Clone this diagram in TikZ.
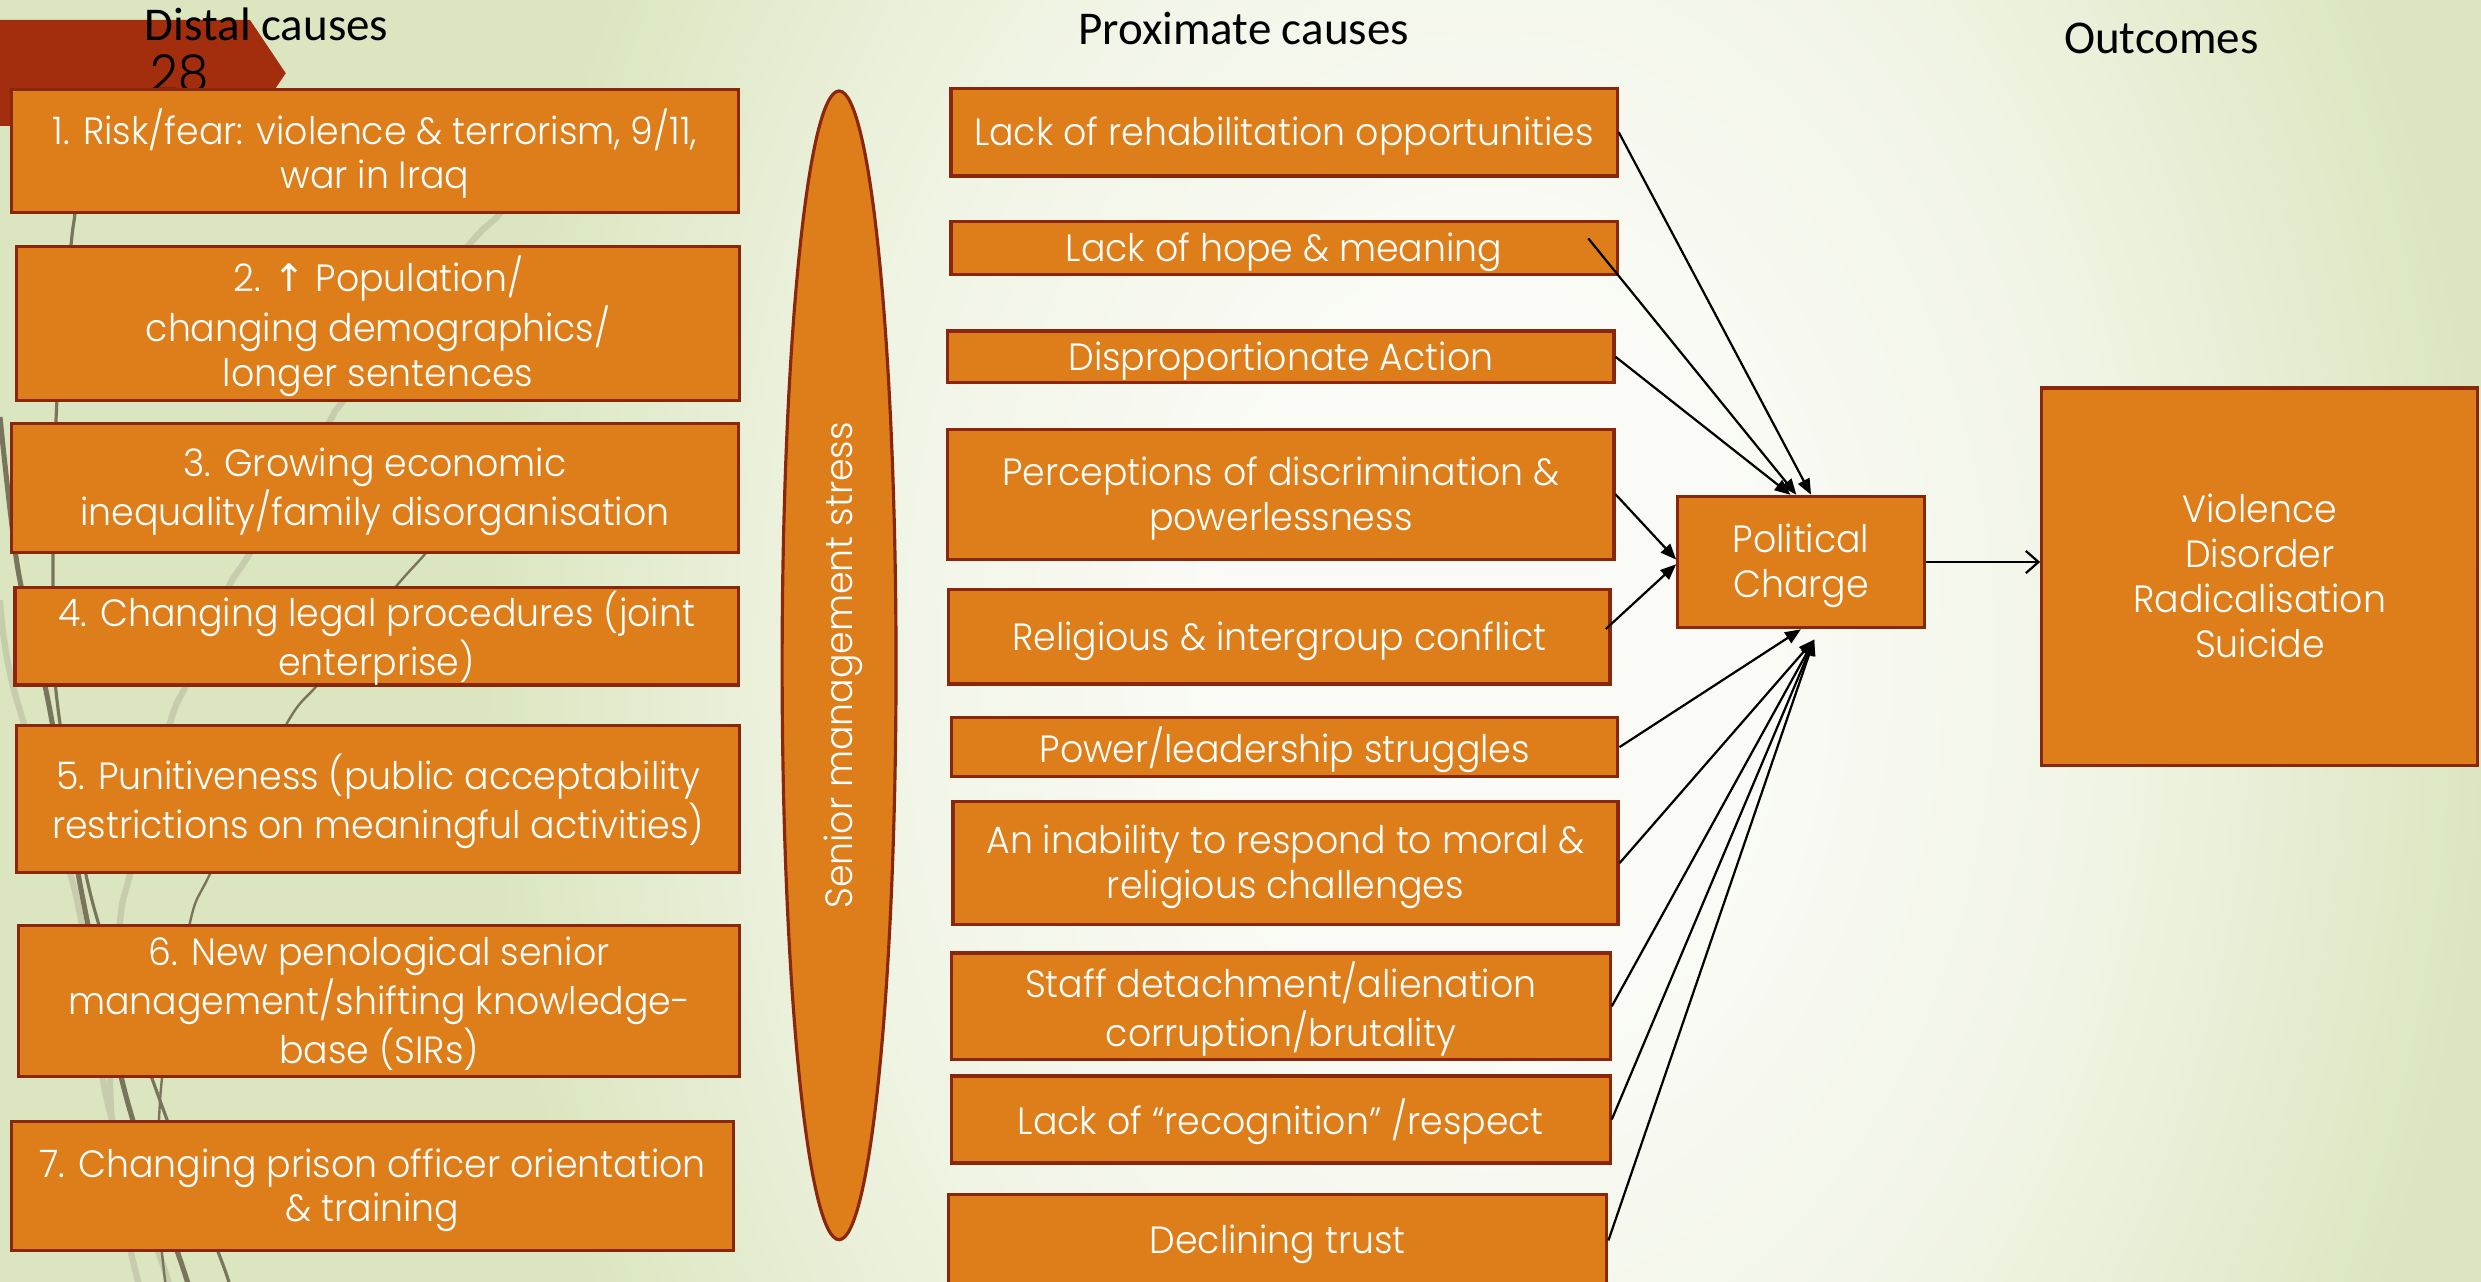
\documentclass[tikz,border=0pt]{standalone}
\usepackage{fontspec}
\IfFontExistsTF{Poppins Light}{\setmainfont{Poppins Light}[FakeStretch=0.955]}{\setmainfont{Poppins}[FakeStretch=0.955]}
\newfontfamily\hdrfont{Carlito}
\newfontfamily\symfont{DejaVu Sans}
\usetikzlibrary{arrows.meta,shapes.geometric}
\definecolor{boxfill}{RGB}{222,126,26}
\definecolor{boxborder}{RGB}{138,38,10}
\definecolor{tagred}{RGB}{163,46,14}
\definecolor{bgin}{RGB}{250,251,246}
\definecolor{bgmid}{RGB}{240,244,228}
\definecolor{bgout}{RGB}{219,230,192}
\definecolor{darkline}{RGB}{122,116,92}
\definecolor{lightline}{RGB}{198,204,172}
\pgfdeclareradialshading{bgshade}{\pgfpointorigin}{color(0bp)=(bgin); color(12bp)=(bgin); color(28bp)=(bgmid); color(44bp)=(bgout); color(50bp)=(bgout)}
\newcommand{\boxtext}{\fontsize{24}{28.4}\selectfont}
\newcommand{\bt}[1]{\raisebox{-2.7pt}[\height][\depth]{\begin{tabular}{@{}c@{}}#1\end{tabular}}}
\begin{document}
\begin{tikzpicture}[x=1pt,y=-1pt,
  cbox/.style={draw=boxborder, line width=2pt, fill=boxfill, text=white, inner sep=0pt, font=\boxtext},
  hdr/.style={font=\hdrfont\fontsize{29.7}{34}\selectfont, text=black, inner sep=0pt, anchor=base},
  conn/.style={line width=1.4pt, black, -{Triangle[length=10pt,width=8pt]}},
  outarrow/.style={line width=1.4pt, black, -{Straight Barb[length=8pt,width=14pt]}}
]
\useasboundingbox (0,0) rectangle (1568,810);
\clip (0,0) rectangle (1568,810);
% background
\fill[bgout] (0,0) rectangle (1568,810);
\pgflowlevelobj{\pgftransformshift{\pgfpoint{940pt}{-420pt}}\pgftransformxscale{14.35}\pgftransformyscale{19.93}}{\pgfuseshading{bgshade}}
% decorative lines
\draw[lightline, line width=4pt] plot[smooth] coordinates {(341,94.8) (316,134.6) (296.4,154.8) (217.4,252.8) (208,266.7) (158,349.5) (143.5,372.9) (118.2,431.6) (107.4,457) (82.2,552.4) (75.8,583.3) (69.5,681) (76,758) (88.5,815)};
\draw[lightline, line width=4pt] plot[smooth] coordinates {(0,379.2) (8.2,433.6) (48.7,568.8) (67.6,695.2) (103,799.5) (107.4,815)};
\draw[darkline, line width=3.2pt] plot[smooth] coordinates {(0,263.5) (11.4,360.2) (30.3,442.4) (52.5,568.8) (80.3,695.2) (115,799.5) (120,815)};
\draw[darkline, line width=2pt] plot[smooth] coordinates {(49.3,94.8) (47.4,134) (44.9,154.8) (36,252.8) (33.5,360.2) (36,442.4) (58.1,568.8) (101,695.2) (141,799.5) (145.4,815)};
\draw[darkline, line width=1.5pt] plot[smooth] coordinates {(297,316) (269.2,349.5) (248.4,372.9) (202.2,431) (181.4,457) (132.7,552.4) (120,583.3) (102.4,681.3) (100,760) (105,815)};
% slide tag and number
\fill[tagred] (0,12.6) -- (158,12.6) -- (180.6,46.3) -- (158,79.6) -- (0,79.6) -- cycle;
\node[font=\fontsize{32}{36}\selectfont, text=black, anchor=base west, inner sep=0pt] (num) at (95,58) {28};
% headers
\node[hdr] (hdist) at (168.5,25.3) {Distal causes};
\node[hdr] (hprox) at (785.9,28.4) {Proximate causes};
\node[hdr] (hout) at (1366,34) {Outcomes};
% distal causes
\node[cbox, minimum width=459.2pt, minimum height=77.4pt] (D1) at (237,95.5) {\bt{1. Risk/fear: violence \& terrorism, 9/11,\\war in Iraq}};
\node[cbox, minimum width=457pt, minimum height=97pt] (D2) at (239,204.5) {\bt{2. {\symfont ↑} Population/\\changing demographics/\\longer sentences}};
\node[cbox, minimum width=459pt, minimum height=81.5pt] (D3) at (237,308.2) {\bt{3. Growing economic\\inequality/family disorganisation}};
\node[cbox, minimum width=457pt, minimum height=58.4pt] (D4) at (238,402) {\bt{4. Changing legal procedures (joint\\enterprise)}};
\node[cbox, minimum width=457pt, minimum height=93pt] (D5) at (239,505) {\bt{5. Punitiveness (public acceptability\\restrictions on meaningful activities)}};
\node[cbox, minimum width=456pt, minimum height=95.5pt] (D6) at (239.6,632.7) {\bt{6. New penological senior\\management/shifting knowledge-\\base (SIRs)}};
\node[cbox, minimum width=456pt, minimum height=81.4pt] (D7) at (235.4,749.7) {\bt{7. Changing prison officer orientation\\\& training}};
% ellipse
\node[cbox, ellipse, rotate=90, minimum width=726pt, minimum height=72pt] (E) at (530.3,420.5) {\bt{Senior management stress}};
% proximate causes
\node[cbox, minimum width=421pt, minimum height=55.4pt] (P1) at (811.5,83.5) {\bt{Lack of rehabilitation opportunities}};
\node[cbox, minimum width=421pt, minimum height=33.1pt] (P2) at (811.5,156.7) {\bt{Lack of hope \& meaning}};
\node[cbox, minimum width=421pt, minimum height=32.7pt] (P3) at (809.5,225.5) {\bt{Disproportionate Action}};
\node[cbox, minimum width=421pt, minimum height=82pt] (P4) at (809.5,312.4) {\bt{Perceptions of discrimination \&\\powerlessness}};
\node[cbox, minimum width=418pt, minimum height=59.6pt] (P5) at (808.5,402.5) {\bt{Religious \& intergroup conflict}};
\node[cbox, minimum width=421pt, minimum height=37.5pt] (P6) at (812,472.2) {\bt{Power/leadership struggles}};
\node[cbox, minimum width=420.3pt, minimum height=78pt] (P7) at (812.4,545.5) {\bt{An inability to respond to moral \&\\religious challenges}};
\node[cbox, minimum width=416.3pt, minimum height=67.4pt] (P8) at (809.5,636) {\bt{Staff detachment/alienation\\corruption/brutality}};
\node[cbox, minimum width=416.3pt, minimum height=55pt] (P9) at (809.5,707.5) {\bt{Lack of “recognition” /respect}};
\node[cbox, minimum width=416pt, minimum height=58pt] (P10) at (807.5,784) {\bt{Declining trust}};
% political charge and outcomes
\node[cbox, minimum width=155.7pt, minimum height=83pt] (PC) at (1138.2,355.2) {\bt{Political\\Charge}};
\node[cbox, minimum width=275.6pt, minimum height=238.3pt] (Out) at (1428.2,364.4) {\bt{Violence\\Disorder\\Radicalisation\\Suicide}};
% connectors
\draw[conn] (P1.east) -- ([xshift=6.4pt]PC.north);
\draw[conn] ([xshift=-19.2pt,yshift=6pt]P2.east) -- ([xshift=-2.9pt]PC.north);
\draw[conn] (P3.east) -- ([xshift=-6.6pt]PC.north);
\draw[conn] (P4.east) -- ([yshift=1.5pt]PC.west);
\draw[conn] ([xshift=-3.6pt,yshift=5pt]P5.east) -- ([yshift=-1.4pt]PC.west);
\draw[conn] (P6.east) -- (PC.south);
\draw[conn] (P7.east) -- ([xshift=8.4pt,yshift=-6.5pt]PC.south);
\draw[conn] (P8.east) -- ([xshift=8.4pt,yshift=-6.5pt]PC.south);
\draw[conn] (P9.east) -- ([xshift=8.4pt,yshift=-6.5pt]PC.south);
\draw[conn] (P10.east) -- ([xshift=8.4pt,yshift=-6.5pt]PC.south);
\draw[outarrow] (PC.east) -- (PC.east -| Out.west);
\end{tikzpicture}
\end{document}
